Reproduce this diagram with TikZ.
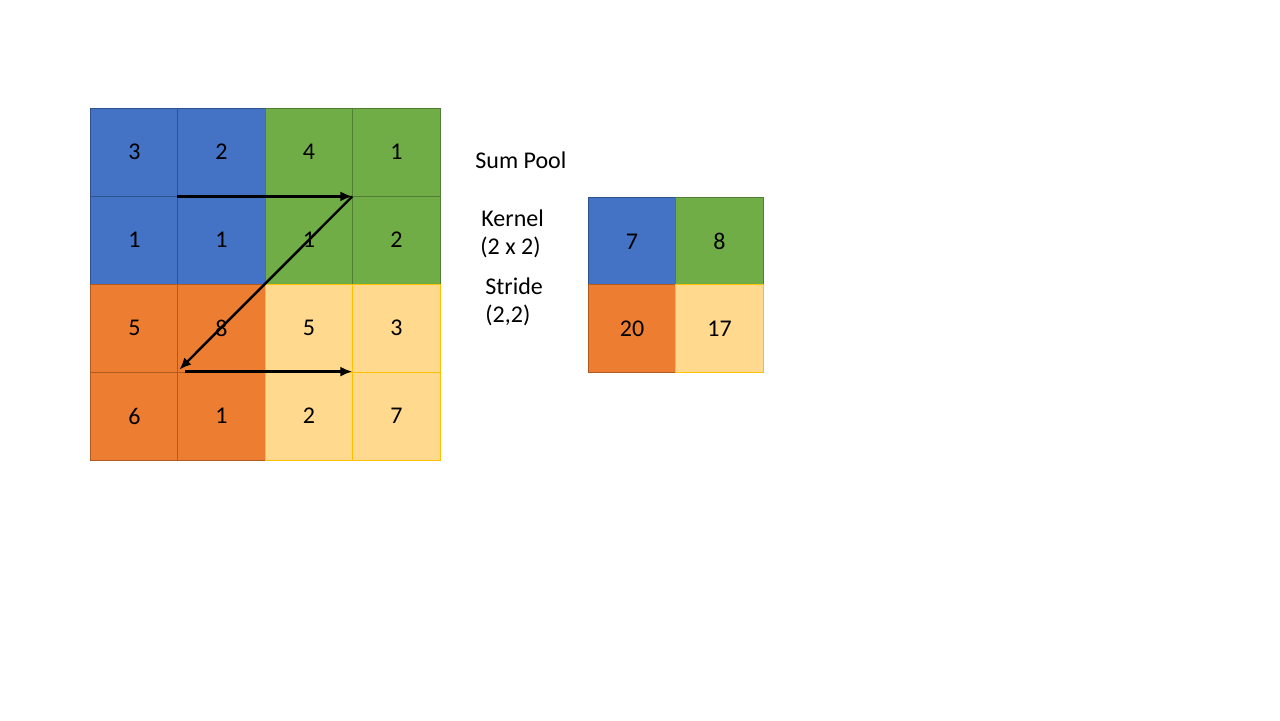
\documentclass[tikz,border=0pt]{standalone}
\usepackage{fontspec}
\setmainfont{Carlito}
\usetikzlibrary{arrows.meta}
\definecolor{cblue}{HTML}{4472C4}
\definecolor{cbluel}{HTML}{2F528F}
\definecolor{cgreen}{HTML}{70AD47}
\definecolor{cgreenl}{HTML}{507E32}
\definecolor{corange}{HTML}{ED7D31}
\definecolor{corangel}{HTML}{AE5A21}
\definecolor{cyel}{HTML}{FFD98E}
\definecolor{cyell}{HTML}{FFC000}
\begin{document}
\begin{tikzpicture}[x=0.5pt,y=-0.5pt,
  cell/.style={minimum width=43.75pt,minimum height=44pt,inner sep=0pt,line width=0.4pt,font=\fontsize{12}{14}\selectfont},
  bluec/.style={cell,fill=cblue,draw=cbluel},
  greenc/.style={cell,fill=cgreen,draw=cgreenl},
  orangec/.style={cell,fill=corange,draw=corangel},
  yelc/.style={cell,fill=cyel,draw=cyell},
  lbl/.style={anchor=west,inner sep=0pt,font=\fontsize{12}{14}\selectfont},
  arr/.style={line width=1.2pt,-{Latex[length=6pt,width=5pt]}}]
\useasboundingbox (0,0) rectangle (1280,720);
% input grid
\node[bluec] (c00) at (134.5,152) {3};
\node[bluec] (c01) at (221.5,152) {2};
\node[greenc] (c02) at (309,152) {4};
\node[greenc] (c03) at (396.5,152) {1};
\node[bluec] (c10) at (134.5,240) {1};
\node[bluec] (c11) at (221.5,240) {1};
\node[greenc] (c12) at (309,240) {1};
\node[greenc] (c13) at (396.5,240) {2};
\node[orangec] (c20) at (134.5,328) {5};
\node[orangec] (c21) at (221.5,328) {8};
\node[yelc] (c22) at (309,328) {5};
\node[yelc] (c23) at (396.5,328) {3};
\node[orangec] (c30) at (134.5,416) {6};
\node[orangec] (c31) at (221.5,416) {1};
\node[yelc] (c32) at (309,416) {2};
\node[yelc] (c33) at (396.5,416) {7};
% arrows
\draw[arr] (c01.south west) -- (c03.south west);
\draw[arr] (c03.south west) -- ([xshift=1pt,yshift=1pt]c31.north west);
\draw[arr] ([xshift=4pt]c31.north west) -- (c33.north west);
% labels
\node[lbl] (t1) at (475,160) {Sum Pool};
\node[lbl] (t2) at (481,218) {Kernel};
\node[lbl] (t3) at (480,247) {(2 x 2)};
\node[lbl] (t4) at (485,286) {Stride};
\node[lbl] (t5) at (485,315) {(2,2)};
% output grid
\node[bluec] (o00) at (632,241.5) {7};
\node[greenc] (o01) at (719.5,241.5) {8};
\node[orangec] (o10) at (632,328.5) {20};
\node[yelc] (o11) at (719.5,328.5) {17};
\end{tikzpicture}
\end{document}
